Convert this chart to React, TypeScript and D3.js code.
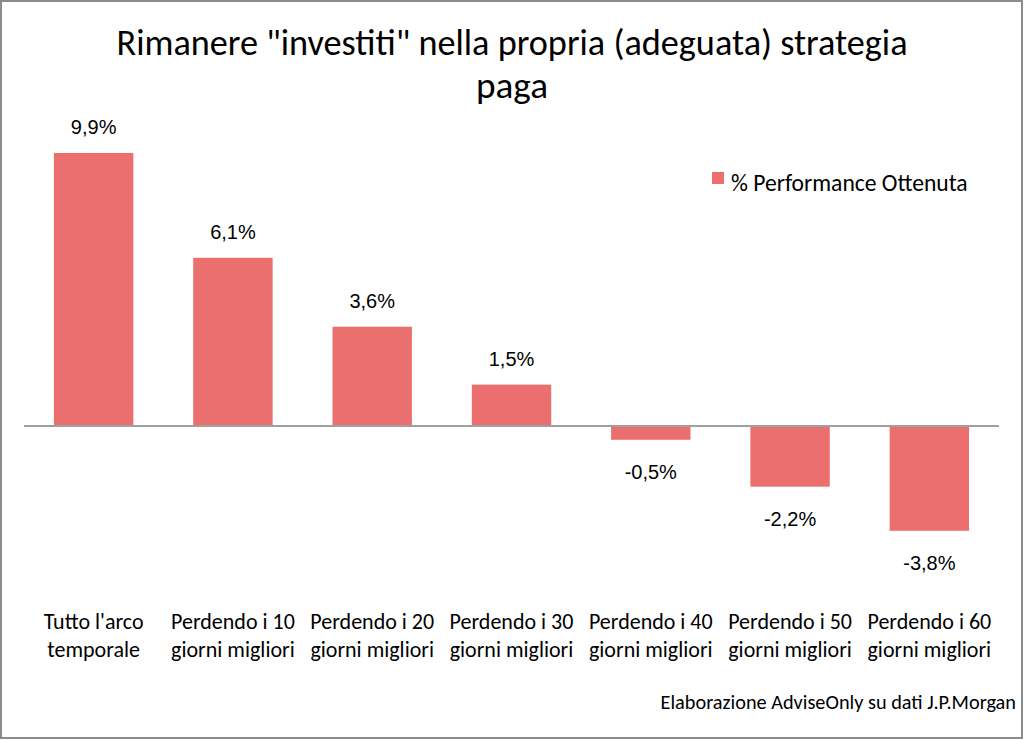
import React from 'react';
import * as d3 from 'd3';

const categories = [
  ["Tutto l'arco", 'temporale'],
  ['Perdendo i 10', 'giorni migliori'],
  ['Perdendo i 20', 'giorni migliori'],
  ['Perdendo i 30', 'giorni migliori'],
  ['Perdendo i 40', 'giorni migliori'],
  ['Perdendo i 50', 'giorni migliori'],
  ['Perdendo i 60', 'giorni migliori'],
];
const performance = [9.9, 6.1, 3.6, 1.5, -0.5, -2.2, -3.8];
const titleLines = ['Rimanere "investiti" nella propria (adeguata) strategia', 'paga'];
const titleWidths = [791, 72];
const seriesName = '% Performance Ottenuta';
const sourceNote = 'Elaborazione AdviseOnly su dati J.P.Morgan';

const W = 1024;
const H = 740;
const BAR = '#ec6f6f';
const CAL = "Carlito, Calibri, 'Liberation Sans Narrow', 'Open Sans', sans-serif";
const ARIAL = "Arial, 'Liberation Sans', sans-serif";

const fmt = (v: number) => v.toFixed(1).replace('.', ',') + '%';

export default function App() {
  const x = d3
    .scaleBand<number>()
    .domain(d3.range(categories.length))
    .range([24, 999])
    .paddingInner(0.43)
    .paddingOuter(0.215);
  const y = d3.scaleLinear().domain([0, 9.9]).range([426, 153]);

  return (
    <svg
      width={W}
      height={H}
      style={{ position: 'absolute', left: 0, top: 0, background: '#fff' }}
    >
      <rect x={1} y={1} width={W - 3} height={H - 3} fill="#fff" stroke="#8c8c8c" strokeWidth={2} />
      {titleLines.map((t, i) => (
        <text
          key={i}
          x={512}
          y={55 + i * 43}
          textAnchor="middle"
          fontFamily={CAL}
          fontSize={36}
          textLength={titleWidths[i]}
          lengthAdjust="spacingAndGlyphs"
          fill="#000"
        >
          {t}
        </text>
      ))}
      {performance.map((v, i) => {
        const top = Math.min(y(v), y(0));
        const h = Math.abs(y(v) - y(0));
        const cx = (x(i) as number) + x.bandwidth() / 2;
        return (
          <g key={i}>
            <rect x={x(i)} y={top} width={x.bandwidth()} height={h} fill={BAR} />
            <text
              x={cx}
              y={v >= 0 ? y(v) - 19 : y(v) + 39}
              textAnchor="middle"
              fontFamily={ARIAL}
              fontSize={20}
              fill="#000"
            >
              {fmt(v)}
            </text>
          </g>
        );
      })}
      <line x1={24} x2={999} y1={y(0)} y2={y(0)} stroke="#a0a0a0" strokeWidth={2} />
      {categories.map((lines, i) => {
        const cx = (x(i) as number) + x.bandwidth() / 2;
        return (
          <text key={i} textAnchor="middle" fontFamily={CAL} fontSize={22} fill="#000">
            {lines.map((l, j) => (
              <tspan key={j} x={cx} y={629 + j * 28}>
                {l}
              </tspan>
            ))}
          </text>
        );
      })}
      <rect x={712} y={172} width={12} height={12} fill={BAR} />
      <text x={731} y={191} fontFamily={CAL} fontSize={23.6} fill="#000">
        {seriesName}
      </text>
      <text x={1016} y={709} textAnchor="end" fontFamily={CAL} fontSize={20.3} fill="#000">
        {sourceNote}
      </text>
    </svg>
  );
}
